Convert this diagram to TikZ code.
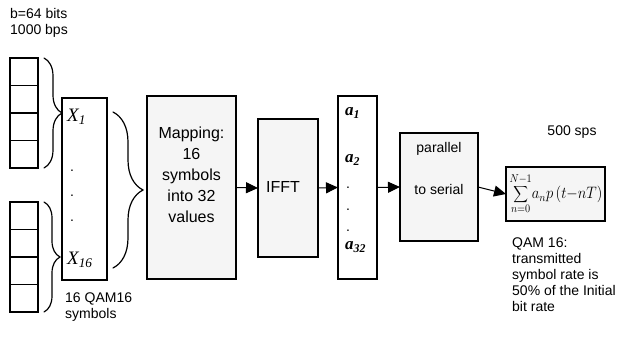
\documentclass[tikz,border=0pt]{standalone}
\usepackage{fontspec}
\setmainfont{Liberation Sans}
\newfontfamily\tnr{Liberation Serif}
\usetikzlibrary{arrows.meta,decorations.pathreplacing}
\tikzset{
  cell/.style={draw, line width=1.3pt, minimum width=28pt, minimum height=27.5pt, inner sep=0pt, outer sep=0pt},
  col/.style={draw, line width=1.2pt, fill=white, inner sep=0pt, outer sep=0pt},
  blk/.style={draw, line width=1.2pt, fill=black!4, inner sep=0pt, outer sep=0pt},
  lbl/.style={inner sep=0pt, align=left, font=\fontsize{14}{16}\selectfont},
  blktxt/.style={inner sep=0pt, align=center, font=\fontsize{16}{21}\selectfont},
  pstxt/.style={inner sep=0pt, font=\fontsize{14}{16}\selectfont},
  xsym/.style={inner sep=0pt, anchor=west, font=\fontsize{19}{20}\selectfont\tnr\itshape},
  asym/.style={inner sep=0pt, anchor=west, font=\fontsize{17}{18}\selectfont\tnr\bfseries\itshape},
  dotch/.style={inner sep=0pt, anchor=base, font=\fontsize{14}{16}\selectfont},
  brc/.style={decorate, line width=1.2pt, line cap=round},
  arr/.style={line width=1pt, -{Triangle[length=12pt,width=11pt]}}
}
\begin{document}
\begin{tikzpicture}[x=1pt,y=-1pt]
\useasboundingbox (0,0) rectangle (619,337);
% input labels
\node[lbl, anchor=west] (top) at (10,23) {b=64 bits\\1000 bps};
\node[lbl, anchor=west] (bot) at (65,307) {16 QAM16\\symbols};
% stacks
\node[cell] (s1) at (24,71.75) {};
\node[cell] (s2) at (24,99.25) {};
\node[cell] (s3) at (24,126.75) {};
\node[cell] (s4) at (24,154.25) {};
\node[cell] (t1) at (24,215.75) {};
\node[cell] (t2) at (24,243.25) {};
\node[cell] (t3) at (24,270.75) {};
\node[cell] (t4) at (24,298.25) {};
% braces
\coordinate (b1a) at (44,58);
\coordinate (b1b) at (44,168);
\coordinate (b2a) at (44,202);
\coordinate (b2b) at (44,312);
\coordinate (b3a) at (113,112);
\coordinate (b3b) at (113,268);
\draw[brc, decoration={brace, amplitude=18pt}] (b1a) -- (b1b);
\draw[brc, decoration={brace, amplitude=16pt}] (b2a) -- (b2b);
\draw[brc, decoration={brace, amplitude=30pt}] (b3a) -- (b3b);
% X column
\node[col, minimum width=45pt, minimum height=182pt] (xcol) at (84.5,189) {};
\node[xsym] (x1) at (67,117) {X\textsubscript{1}};
\node[dotch] (xd1) at (72,171) {.};
\node[dotch] (xd2) at (72,196) {.};
\node[dotch] (xd3) at (72,221) {.};
\node[xsym] (x16) at (67,260) {X\textsubscript{16}};
% mapping
\node[blk, minimum width=89pt, minimum height=183pt] (map) at (191.5,187.5) {};
\node[blktxt] (maptxt) at (191.5,175) {Mapping:\\16\\symbols\\into 32\\values};
% IFFT
\node[blk, minimum width=60pt, minimum height=138pt] (ifft) at (288,188) {};
\node[blktxt] (iffttxt) at (283,187) {IFFT};
% a column
\node[col, minimum width=39pt, minimum height=183pt] (acol) at (357.5,187.5) {};
\node[asym] (a1) at (345,113) {a\textsubscript{1}};
\node[asym] (a2) at (345,160) {a\textsubscript{2}};
\node[dotch] (ad1) at (348,188) {.};
\node[dotch] (ad2) at (348,210) {.};
\node[dotch] (ad3) at (348,231) {.};
\node[asym] (a32) at (345,247) {a\textsubscript{32}};
% parallel to serial
\node[blk, minimum width=78pt, minimum height=108pt] (ps) at (439,187) {};
\node[pstxt] (pst1) at (439,149) {parallel};
\node[pstxt] (pst2) at (439,189) {to serial};
% sum
\node[blk, minimum width=99pt, minimum height=54pt] (sum) at (555.5,194) {};
\node[inner sep=0pt, font=\fontsize{14.4}{16}\selectfont] (sumtxt) at (556,194) {\scalebox{1.02}[1.15]{$\displaystyle\sum_{n=0}^{N-1}\!a_n p\left(t{-}nT\right)$}};
\node[lbl, anchor=center] (sps) at (572,132) {500 sps};
\node[lbl, anchor=west] (qam) at (512,274.5) {QAM 16:\\transmitted\\symbol rate is\\50\% of the Initial\\bit rate};
% arrows
\draw[arr] (map.east) -- (ifft.west);
\draw[arr] (ifft.east) -- (acol.west);
\draw[arr] (acol.east) -- (ps.west);
\draw[arr] (ps.east) -- (sum.west);
\end{tikzpicture}
\end{document}
